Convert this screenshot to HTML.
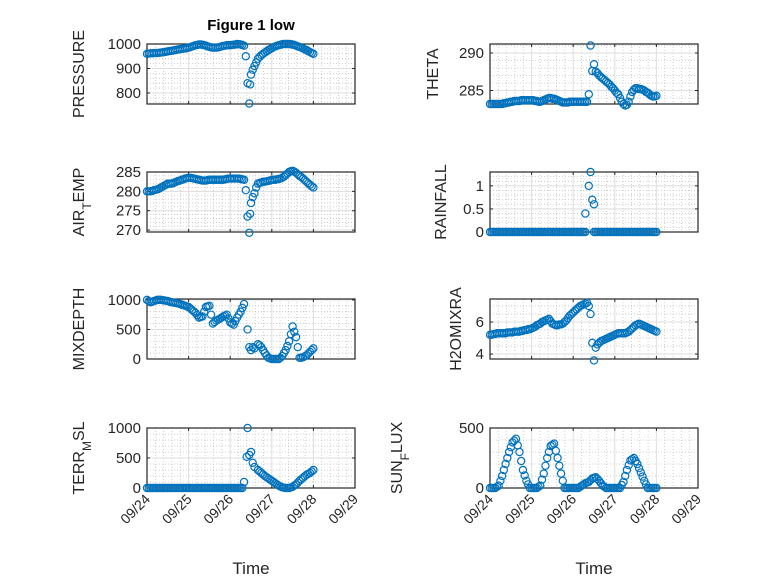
<!DOCTYPE html>
<html><head><meta charset="utf-8"><style>
html,body{margin:0;padding:0;background:#fff;}
svg{display:block;font-family:"Liberation Sans","DejaVu Sans",sans-serif;}
</style></head><body>
<svg id="fig" width="778" height="583" viewBox="0 0 778 583">
<rect width="778" height="583" fill="#fff"/>
<text x="251" y="30" text-anchor="middle" font-size="15" font-weight="bold" fill="#000">Figure 1 low</text>
</svg>
<script>
const dayTicks=["09/24","09/25","09/26","09/27","09/28","09/29"];
// hourly samples; pre-storm start at hour 0, post-storm arrays start at the given hour
const pressurePre=[960,961,962,962,963,963,963,964,965,966,967,968,970,971,972,973,975,976,978,979,980,981,982,983,985,987,990,992,995,996,998,998,997,995,993,990,988,986,985,985,985,986,988,990,992,993,995,995,995,996,997,998,1000,999,998,996,993];
const pressurePost=[940,948,955,960,965,970,975,979,983,987,990,993,995,997,999,1000,1000,1000,1000,999,998,996,993,990,988,985,982,978,975,971,967,963,960];
const pressureStormT=[57,58,59,59.5,60,61,62,63];
const pressureStormV=[950,840,757,835,875,895,910,925];
const airPre=[280,280,280,280.1,280.3,280.4,280.5,280.7,281,281.2,281.5,281.7,282,282,282,282.1,282.3,282.5,282.7,282.8,283,283.1,283.3,283.4,283.5,283.5,283.4,283.3,283.2,283.1,283,282.9,282.8,282.8,282.8,282.9,283,283,283,283,283,283,283,283,283,283.1,283.2,283.3,283.3,283.3,283.3,283.3,283.3,283.3,283.2,283.1,283];
const airPost=[282,282.2,282.3,282.5,282.5,282.6,282.7,282.8,283,283,283,283.1,283.2,283.3,283.5,283.8,284.2,284.6,285,285.2,285.3,285.1,284.8,284.4,284,283.7,283.3,282.9,282.5,282.1,281.7,281.3,281];
const airStormT=[57,58,59,59.5,60,61,62,63];
const airStormV=[280.3,273.5,269.3,274.2,277,278.5,279.5,281];
const thetaPre=[283.2,283.2,283.2,283.2,283.2,283.2,283.2,283.2,283.3,283.3,283.4,283.4,283.5,283.5,283.6,283.6,283.6,283.6,283.7,283.7,283.7,283.7,283.7,283.7,283.7,283.7,283.6,283.6,283.5,283.5,283.6,283.7,283.8,283.9,284,284,283.9,283.9,283.8,283.7,283.6,283.5,283.4,283.4,283.4,283.4,283.5,283.5,283.5,283.5,283.5,283.5,283.5,283.5,283.5,283.5,283.5];
const thetaPost=[286.8,286.6,286.4,286.2,286,285.8,285.5,285.3,285,284.7,284.5,284,283.5,283.2,283,283.1,283.5,284.2,284.8,285.1,285.3,285.3,285.2,285.2,285.1,285,284.8,284.7,284.5,284.3,284.2,284.2,284.3];
const thetaStormT=[57,58,59,60,61,62,63];
const thetaStormV=[284.5,291,287.6,288.5,287.5,287.3,287];
const rainPre=[0,0,0,0,0,0,0,0,0,0,0,0,0,0,0,0,0,0,0,0,0,0,0,0,0,0,0,0,0,0,0,0,0,0,0,0,0,0,0,0,0,0,0,0,0,0,0,0,0,0,0,0,0,0,0,0];
const rainPost=[0,0,0,0,0,0,0,0,0,0,0,0,0,0,0,0,0,0,0,0,0,0,0,0,0,0,0,0,0,0,0,0,0,0,0,0,0];
const rainStormT=[55,57,58,59,60];
const rainStormV=[0.4,1.0,1.3,0.7,0.6];
const mixPre=[1000,980,960,970,980,990,1000,1000,1000,995,990,985,980,970,960,955,950,945,940,930,920,910,900,890,880,855,830,805,780,740,700,710,720,800,880,890,900,750,600,625,650,665,680,700,720,735,750,685,620,600,580,640,700,750,800,865,930];
const mixPost=[250,230,200,150,100,60,20,10,0,0,0,0,0,20,50,100,150,220,300,420,550,460,370,200,20,20,30,45,60,90,120,150,180];
const mixStormT=[58,59,60,61,62];
const mixStormV=[500,200,150,200,180];
const h2oPre=[5.2,5.2,5.25,5.25,5.3,5.3,5.3,5.3,5.3,5.3,5.35,5.35,5.35,5.35,5.4,5.4,5.4,5.4,5.45,5.45,5.5,5.5,5.55,5.55,5.6,5.65,5.7,5.8,5.85,5.9,6.0,6.05,6.1,6.15,6.2,6.05,5.9,5.85,5.8,5.8,5.85,5.85,5.9,6.0,6.1,6.25,6.4,6.5,6.6,6.7,6.8,6.9,7.0,7.05,7.1,7.15,7.2];
const h2oPost=[4.8,4.85,4.9,4.95,5.0,5.05,5.1,5.15,5.2,5.25,5.3,5.3,5.3,5.3,5.3,5.35,5.4,5.5,5.6,5.7,5.8,5.85,5.9,5.85,5.8,5.75,5.7,5.65,5.6,5.55,5.5,5.45,5.4];
const h2oStormT=[57,58,59,60,61,62,63];
const h2oStormV=[7.0,6.5,4.7,3.6,4.4,4.6,4.7];
const terrPre=[0,0,0,0,0,0,0,0,0,0,0,0,0,0,0,0,0,0,0,0,0,0,0,0,0,0,0,0,0,0,0,0,0,0,0,0,0,0,0,0,0,0,0,0,0,0,0,0,0,0,0,0,0,0,0,0];
const terrPost=[300,275,250,225,200,180,160,140,120,100,80,60,40,25,10,5,0,0,0,10,20,40,60,90,120,145,170,195,220,235,250,275,300];
const terrStormT=[56,57.5,58,59,60,61,62];
const terrStormV=[100,520,1000,550,600,420,350];
const sunPre=[0,0,0,0,10,20,60,100,150,200,250,300,340,380,395,410,355,300,225,150,105,60,30,0,0,0,0,0,10,20,70,120,185,250,300,350,360,370,310,250,185,120,60,0,0,0,0,0,0,0,0,0,10,20,30,40,45,50,65,80,85,90,75,60,40,20,10,0,0,0,0,0,0,0,0,0,25,50,100,150,190,230,240,250,225,200,165,130,95,60,30,0,0,0,0,0,0];
const sunPost=[];
const sunStormT=[];
const sunStormV=[];

const NS="http://www.w3.org/2000/svg";
const svg=document.getElementById('fig');
function mk(tag,attrs,parent){const e=document.createElementNS(NS,tag);for(const k in attrs)e.setAttribute(k,attrs[k]);(parent||svg).appendChild(e);return e;}

function panel(name,x0,y0,ymin,ymax,yTicks,yMinor,pre,post,postStart,stormT,stormV,labelParts,labelX,showX){
  const W=208,H=60,x1=x0+W,y1=y0+H;
  const g=mk('g',{});
  
  
  const sx=h=>x0+h/120*W;
  const sy=v=>y1-(v-ymin)/(ymax-ymin)*H;
  for(let d=0;d<5;d+=0.2){const xx=x0+d/5*W; if(Math.abs(d-Math.round(d))<1e-6)continue; mk('line',{x1:xx,x2:xx,y1:y0,y2:y1,stroke:'#c4c4c4','stroke-width':0.8,'stroke-dasharray':'1 2'},g);}
  for(let v=Math.ceil(ymin/yMinor)*yMinor;v<=ymax+1e-9;v+=yMinor){const yy=sy(v);mk('line',{x1:x0,x2:x1,y1:yy,y2:yy,stroke:'#c4c4c4','stroke-width':0.8,'stroke-dasharray':'1 2'},g);}
  for(let d=1;d<5;d++){const xx=x0+d/5*W;mk('line',{x1:xx,x2:xx,y1:y0,y2:y1,stroke:'#dedede','stroke-width':1},g);}
  yTicks.forEach(v=>{const yy=sy(v);mk('line',{x1:x0,x2:x1,y1:yy,y2:yy,stroke:'#dedede','stroke-width':1},g);});
  mk('rect',{x:x0,y:y0,width:W,height:H,fill:'none',stroke:'#262626','stroke-width':1.2},g);
  for(let d=0;d<=5;d++){const xx=x0+d/5*W;mk('line',{x1:xx,x2:xx,y1:y1,y2:y1-3,stroke:'#262626'},g);mk('line',{x1:xx,x2:xx,y1:y0,y2:y0+3,stroke:'#262626'},g);
    if(showX){const t=mk('text',{x:xx+4,y:y1+12,'text-anchor':'end','font-size':14,fill:'#262626',transform:`rotate(-45 ${xx+4} ${y1+12})`},g);t.textContent=dayTicks[d];
      
      }}
  yTicks.forEach(v=>{const yy=sy(v);mk('line',{x1:x0,x2:x0+3,y1:yy,y2:yy,stroke:'#262626'},g);mk('line',{x1:x1,x2:x1-3,y1:yy,y2:yy,stroke:'#262626'},g);
    const t=mk('text',{x:x0-6,y:yy+5,'text-anchor':'end','font-size':15,fill:'#262626'},g);t.textContent=String(v);
    
    });
  const cy=y0+H/2;
  const lab=mk('text',{x:labelX,y:cy,'text-anchor':'middle','font-size':16,fill:'#262626',transform:`rotate(-90 ${labelX} ${cy})`},g);
  
  
  labelParts.forEach(p=>{const ts=mk('tspan',{},lab);ts.textContent=p[0];if(p[1]){ts.setAttribute('baseline-shift','sub');ts.setAttribute('font-size','12');}});
  const pts=mk('g',{fill:'none',stroke:'#0072BD','stroke-width':1.2},g);
  
  
  function dot(h,v){const c=mk('circle',{cx:sx(h),cy:sy(v),r:3.6},pts);
    
    }
  pre.forEach((v,i)=>dot(i,v));
  post.forEach((v,i)=>dot(postStart+i,v));
  stormT.forEach((t,i)=>dot(t,stormV[i]));
  if(showX){const tt=mk('text',{x:x0+W/2,y:574,'text-anchor':'middle','font-size':17,fill:'#262626'},g);tt.textContent='Time';
    
    }
}
const L=147,R=490;
panel('pressure',L,44,755,1000,[800,900,1000],20,pressurePre,pressurePost,64,pressureStormT,pressureStormV,[['PRESSURE']],84,false);
panel('theta',R,44,283.2,291.2,[285,290],1,thetaPre,thetaPost,64,thetaStormT,thetaStormV,[['THETA']],438,false);
panel('air-temp',L,172,269.5,285,[270,275,280,285],1,airPre,airPost,64,airStormT,airStormV,[['AIR'],['T',1],['EMP']],84,false);
panel('rainfall',R,172,0,1.3,[0,0.5,1],0.1,rainPre,rainPost,60,rainStormT,rainStormV,[['RAINFALL']],446,false);
panel('mixdepth',L,299,0,1015,[0,500,1000],100,mixPre,mixPost,64,mixStormT,mixStormV,[['MIXDEPTH']],84,false);
panel('h2omixra',R,299,3.69,7.44,[4,6],0.5,h2oPre,h2oPost,64,h2oStormT,h2oStormV,[['H2OMIXRA']],461,false);
panel('terr-msl',L,428,0,1000,[0,500,1000],100,terrPre,terrPost,64,terrStormT,terrStormV,[['TERR'],['M',1],['SL']],84,true);
panel('sun-flux',R,428,0,500,[0,500],100,sunPre,sunPost,97,sunStormT,sunStormV,[['SUN'],['F',1],['LUX']],402,true);
</script>
</body></html>
